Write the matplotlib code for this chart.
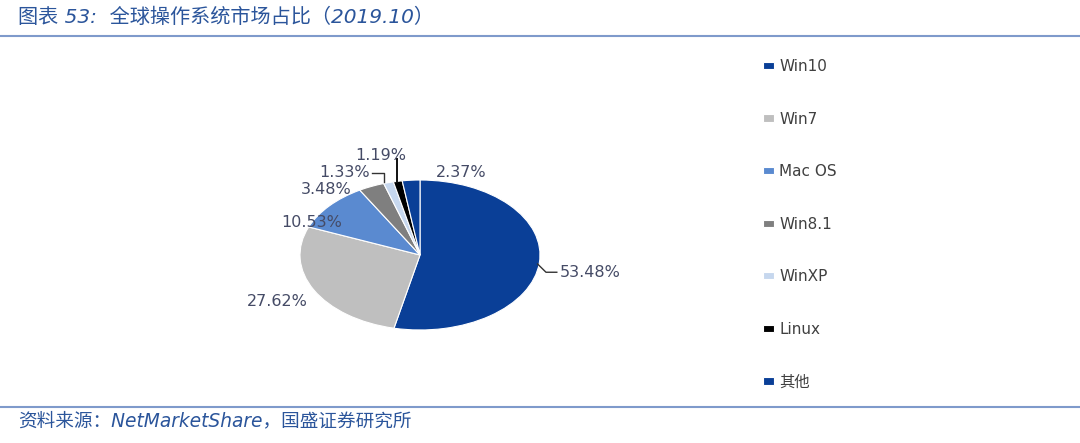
import matplotlib.pyplot as plt
from matplotlib.lines import Line2D

plt.rcParams['font.family'] = ['DejaVu Sans', 'Noto Sans CJK SC']

# data
systems = ['Win10', 'Win7', 'Mac OS', 'Win8.1', 'WinXP', 'Linux', '其他']
shares = [53.48, 27.62, 10.53, 3.48, 1.33, 1.19, 2.37]
colors = ['#0A3F97', '#BFBFBF', '#5A8AD0', '#7F7F7F', '#C6D7EE', '#000000', '#0A3F97']

# label text positions (data units of the pie axes)
label_pos = [(1.42, -0.23), (-1.19, -0.62), (-0.90, 0.43), (-0.78, 0.87),
             (-0.63, 1.10), (-0.33, 1.32), (0.34, 1.10)]

title_color = '#2B559B'
text_color = '#454B66'

fig = plt.figure(figsize=(10.8, 4.43), dpi=100)

ax = fig.add_axes([240 / 1080, 38 / 443, 360 / 1080, 300 / 443])
wedges, _ = ax.pie(shares, colors=colors, startangle=90, counterclock=False,
                   wedgeprops=dict(edgecolor='white', linewidth=0.8))
ax.set_aspect('auto')
ax.set_xlim(-1.5, 1.5)
ax.set_ylim(-2, 2)

for i, (w, v) in enumerate(zip(wedges, shares)):
    ax.text(label_pos[i][0], label_pos[i][1], f'{v:.2f}%', ha='center', va='center',
            fontsize=11.5, color=text_color)

# leader lines for the labels that sit away from their slice
ax.plot([0.98, 1.05, 1.14], [-0.12, -0.23, -0.23], color='#333333', lw=1.0)
ax.plot([-0.40, -0.30, -0.30], [1.10, 1.10, 0.98], color='#333333', lw=1.0)
ax.plot([-0.19, -0.19], [1.28, 0.98], color='#111111', lw=1.4)

fig.legend(wedges, systems, loc='upper left', bbox_to_anchor=(763 / 1080, 1 - 59 / 443),
           frameon=False, fontsize=11, labelspacing=2.46, handlelength=0.7,
           handleheight=0.35, handletextpad=0.35, borderpad=0, borderaxespad=0,
           labelcolor='#404040')

fig.text(18 / 1080, 1 - 17 / 443, '图表 53:  全球操作系统市场占比（2019.10）', ha='left', va='center',
         fontsize=14.5, style='italic', color=title_color)
fig.text(18 / 1080, 1 - 421 / 443, '资料来源：NetMarketShare，国盛证券研究所', ha='left', va='center',
         fontsize=13.4, style='italic', color=title_color)

fig.add_artist(Line2D([0, 1], [1 - 36 / 443, 1 - 36 / 443], color='#7F9ACB', lw=1.5))
fig.add_artist(Line2D([0, 1], [1 - 407 / 443, 1 - 407 / 443], color='#7F9ACB', lw=1.5))

fig.savefig('out.png', dpi=100)
